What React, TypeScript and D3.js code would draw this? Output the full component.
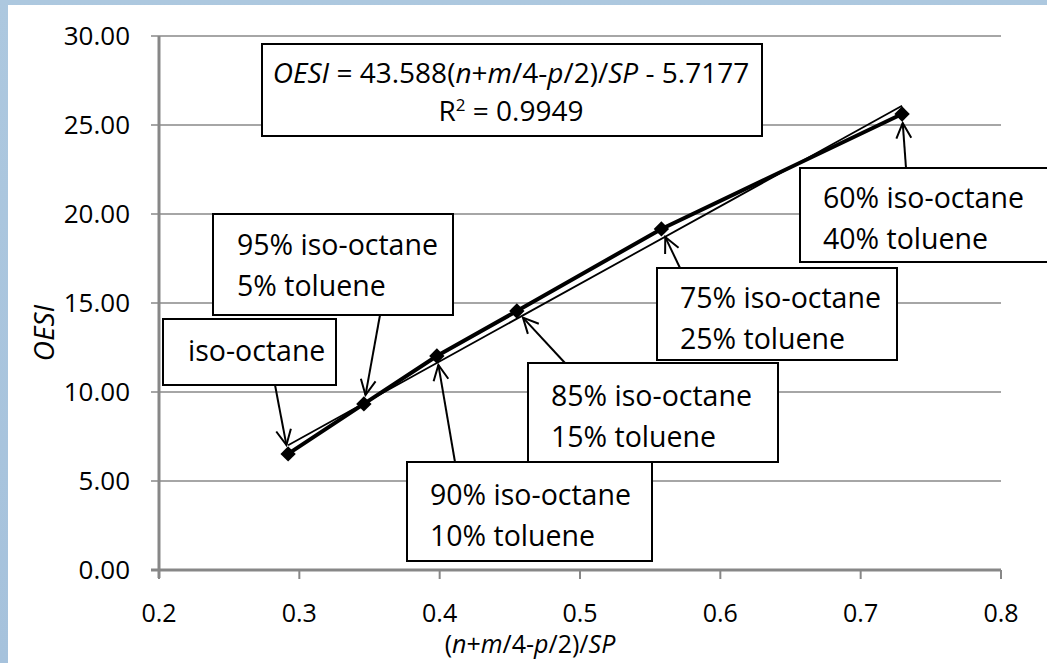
import React from "react";
import * as d3 from "d3";

// ---- data ----
const mixtureLabels: string[][] = [
  ["iso-octane"],
  ["95% iso-octane", "5% toluene"],
  ["90% iso-octane", "10% toluene"],
  ["85% iso-octane", "15% toluene"],
  ["75% iso-octane", "25% toluene"],
  ["60% iso-octane", "40% toluene"],
];
const xValues = [0.292, 0.346, 0.398, 0.455, 0.558, 0.7295];
const oesiValues = [6.52, 9.33, 12.02, 14.55, 19.16, 25.62];
const slope = 43.588;
const intercept = -5.7177;
const rSquared = "0.9949";
const xTicks = [0.2, 0.3, 0.4, 0.5, 0.6, 0.7, 0.8];
const yTicks = [0, 5, 10, 15, 20, 25, 30];

// ---- layout ----
const W = 1047;
const H = 663;
const FONT = "'Open Sans', 'Noto Sans', sans-serif";
// annotation boxes: box rect, text offsets, arrow tail point
const boxes = [
  { x: 163, y: 319, w: 173, h: 66, tx: 25, ty: 44, tail: [275, 385] },
  { x: 213, y: 214, w: 240, h: 101, tx: 24, ty: 43, tail: [380, 315] },
  { x: 407, y: 462, w: 245, h: 99, tx: 23, ty: 45, tail: [455, 462] },
  { x: 528, y: 363, w: 250, h: 99, tx: 23, ty: 45, tail: [565, 363] },
  { x: 657, y: 268, w: 240, h: 92, tx: 23, ty: 42, tail: [680, 268] },
  { x: 800, y: 168, w: 260, h: 94, tx: 23, ty: 42, tail: [906, 168] },
];
const LINE_GAP = 41;

export default function App() {
  const x = d3.scaleLinear().domain([0.2, 0.8]).range([159, 1001]);
  const y = d3.scaleLinear().domain([0, 30]).range([570, 36]);
  const pts = xValues.map((v, i) => [x(v), y(oesiValues[i])] as [number, number]);
  const line = d3.line<[number, number]>()(pts) || "";
  const xMin = d3.min(xValues)!;
  const xMax = d3.max(xValues)!;
  const trend = d3.line<number>()
    .x((v) => x(v))
    .y((v) => y(slope * v + intercept))([xMin, xMax]) || "";
  const fmtY = d3.format(".2f");
  const fmtX = d3.format(".1f");
  const diamond = d3.symbol().type(d3.symbolDiamond2 || d3.symbolDiamond).size(150)() || "";

  const arrows = boxes.map((b, i) => {
    const [px, py] = pts[i];
    const [tx, ty] = b.tail;
    const dx = tx - px, dy = ty - py;
    const len = Math.hypot(dx, dy);
    const ux = dx / len, uy = dy / len;
    const tipX = px + ux * 9, tipY = py + uy * 9;
    const headLen = 17, ang = (26 * Math.PI) / 180;
    const rot = (a: number) => [
      tipX + headLen * (ux * Math.cos(a) - uy * Math.sin(a)),
      tipY + headLen * (ux * Math.sin(a) + uy * Math.cos(a)),
    ];
    const h1 = rot(ang), h2 = rot(-ang);
    return { tipX, tipY, tx, ty, h1, h2 };
  });

  return (
    <svg width={W} height={H} style={{ position: "absolute", left: 0, top: 0, display: "block" }} fontFamily={FONT}>
      <defs>
        <linearGradient id="bg" x1="0" y1="0" x2="0" y2="1">
          <stop offset="0" stopColor="#adc8df" />
          <stop offset="1" stopColor="#a6c2dc" />
        </linearGradient>
      </defs>
      <rect width={W} height={H} fill="url(#bg)" />
      <rect x={8} y={5} width={W - 8} height={H - 5} fill="#ffffff" />

      {/* gridlines */}
      {yTicks.map((t) => (
        <line key={"g" + t} x1={151} x2={1001} y1={y(t)} y2={y(t)} stroke="#a6a6a6" strokeWidth={2} />
      ))}
      {/* y axis */}
      <line x1={159} x2={159} y1={y(30)} y2={y(0) + 8} stroke="#878787" strokeWidth={3} />
      {/* x axis */}
      <line x1={151} x2={1001} y1={y(0)} y2={y(0)} stroke="#878787" strokeWidth={3} />
      {xTicks.map((t) => (
        <line key={"xt" + t} x1={x(t)} x2={x(t)} y1={y(0)} y2={y(0) + 9} stroke="#878787" strokeWidth={2} />
      ))}
      {yTicks.map((t) => (
        <text key={"yl" + t} x={130} y={y(t)} dy="0.35em" textAnchor="end" fontSize={26} fill="#000">
          {fmtY(t)}
        </text>
      ))}
      {xTicks.map((t) => (
        <text key={"xl" + t} x={x(t)} y={613} dy="0.35em" textAnchor="middle" fontSize={25} fill="#000">
          {fmtX(t)}
        </text>
      ))}

      {/* axis titles */}
      <text transform="translate(44,333) rotate(-90)" textAnchor="middle" dy="0.35em" fontSize={28} fontStyle="italic">
        OESI
      </text>
      <text x={530} y={644} dy="0.35em" textAnchor="middle" fontSize={25}>
        (<tspan fontStyle="italic">n</tspan>+<tspan fontStyle="italic">m</tspan>/4-<tspan fontStyle="italic">p</tspan>/2)/<tspan fontStyle="italic">SP</tspan>
      </text>

      {/* trend line and data */}
      <path d={trend} fill="none" stroke="#000" strokeWidth={1.8} />
      <path d={line} fill="none" stroke="#000" strokeWidth={4} />
      {pts.map((p, i) => (
        <path key={"m" + i} d={diamond} transform={`translate(${p[0]},${p[1]})`} fill="#000" />
      ))}

      {/* equation box */}
      <rect x={262} y={44} width={500} height={92} fill="#fff" stroke="#000" strokeWidth={2} />
      <text x={511} y={73} dy="0.35em" textAnchor="middle" fontSize={28}>
        <tspan fontStyle="italic">OESI</tspan> = {slope}(<tspan fontStyle="italic">n</tspan>+<tspan fontStyle="italic">m</tspan>/4-<tspan fontStyle="italic">p</tspan>/2)/<tspan fontStyle="italic">SP</tspan> - {Math.abs(intercept)}
      </text>
      <text x={511} y={111} dy="0.35em" textAnchor="middle" fontSize={28}>
        R<tspan fontSize={17} dy="-0.55em">2</tspan><tspan dy="0.35em"> = {rSquared}</tspan>
      </text>

      {/* annotation boxes */}
      {boxes.map((b, i) => (
        <g key={"b" + i}>
          <rect x={b.x} y={b.y} width={b.w} height={b.h} fill="#fff" stroke="#000" strokeWidth={2} />
          {mixtureLabels[i].map((s, j) => (
            <text key={j} x={b.x + b.tx} y={b.y + b.ty - 12 + j * LINE_GAP} dy="0.35em" fontSize={28.5}>
              {s}
            </text>
          ))}
        </g>
      ))}
      {arrows.map((a, i) => (
        <g key={"a" + i} stroke="#000" strokeWidth={2} fill="none">
          <line x1={a.tx} y1={a.ty} x2={a.tipX} y2={a.tipY} />
          <polyline points={`${a.h1[0]},${a.h1[1]} ${a.tipX},${a.tipY} ${a.h2[0]},${a.h2[1]}`} />
        </g>
      ))}
    </svg>
  );
}
